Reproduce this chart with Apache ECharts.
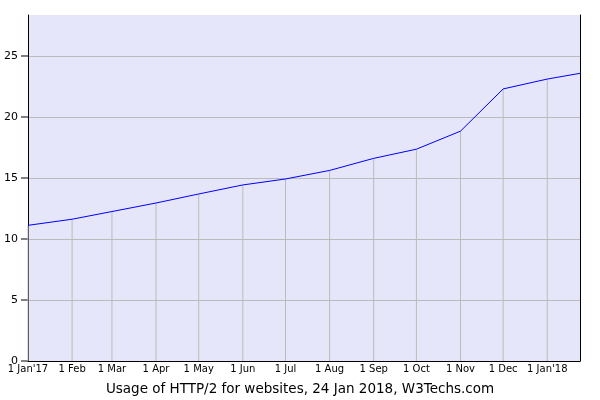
<!DOCTYPE html>
<html>
<head>
<meta charset="utf-8">
<script src="https://cdn.jsdelivr.net/npm/echarts@6/dist/echarts.min.js"></script>
<style>html,body{margin:0;padding:0;background:#fff}#c{width:600px;height:400px}</style>
</head>
<body>
<div id="c"></div>
<script>
var dates = ['2017-01-01','2017-02-01','2017-03-01','2017-04-01','2017-05-01','2017-06-01','2017-07-01','2017-08-01','2017-09-01','2017-10-01','2017-11-01','2017-12-01','2018-01-01','2018-01-24'];
var usage = [11.12, 11.62, 12.25, 12.95, 13.69, 14.43, 14.92, 15.62, 16.61, 17.36, 18.84, 22.3, 23.11, 23.58];
var monthTicks = ['2017-01-01','2017-02-01','2017-03-01','2017-04-01','2017-05-01','2017-06-01','2017-07-01','2017-08-01','2017-09-01','2017-10-01','2017-11-01','2017-12-01','2018-01-01'];
var monthLabels = ["1 Jan'17","1 Feb","1 Mar","1 Apr","1 May","1 Jun","1 Jul","1 Aug","1 Sep","1 Oct","1 Nov","1 Dec","1 Jan'18"];
var yTicks = [0, 5, 10, 15, 20, 25];
var titleText = 'Usage of HTTP/2 for websites, 24 Jan 2018, W3Techs.com';

var DAY = 86400000;
var t0 = Date.UTC(2017, 0, 1);
function dayNum(d){ return Math.round((new Date(d + 'T00:00:00Z').getTime() - t0) / DAY); }
var tickDays = monthTicks.map(dayNum);
var lineData = dates.map(function(d,i){ return [dayNum(d), usage[i]]; });
var dropData = monthTicks.map(function(d){ var i = dates.indexOf(d); return [dayNum(d), usage[i]]; });

var chart = echarts.init(document.getElementById('c'), null, {renderer:'canvas'});
var font = 'DejaVu Sans';
chart.setOption({
  animation: false,
  textStyle: {fontFamily: font},
  title: {
    text: titleText, left: 'center', top: 377,
    textStyle: {fontFamily: font, fontSize: 13.5, fontWeight: 'normal', color: '#000'}
  },
  grid: {left: 28, right: 20, top: 15, bottom: 39, show: true, backgroundColor: '#e6e6fa', borderWidth: 0},
  xAxis: {
    type: 'value',
    min: dayNum('2017-01-01'), max: dayNum('2018-01-24'),
    axisLine: {show: true, onZero: false, lineStyle: {color: '#000', width: 1}},
    axisTick: {show: false},
    splitLine: {show: false},
    axisLabel: {
      customValues: tickDays,
      fontFamily: font, fontSize: 10, color: '#000', margin: 3,
      hideOverlap: false,
      formatter: function(v){ var i = tickDays.indexOf(v); return i >= 0 ? monthLabels[i] : ''; }
    }
  },
  yAxis: [{
    type: 'value', min: 0, max: 28.36, interval: 5,
    axisLine: {show: true, onZero: false, lineStyle: {color: '#000', width: 1}},
    axisTick: {show: false},
    axisLabel: {
      customValues: yTicks, fontFamily: font, fontSize: 11, color: '#000', margin: 0,
      formatter: function(v){ return '{n|' + v + '}{g|}{t|}'; },
      rich: {
        n: {fontFamily: font, fontSize: 11, color: '#000'},
        g: {width: 3, height: 1},
        t: {width: 7, height: 1, backgroundColor: '#000'}
      }
    },
    splitLine: {show: true, showMaxLine: false, lineStyle: {color: '#bbbbbb', width: 1}}
  }, {
    type: 'value', min: 0, max: 28.36, position: 'right',
    axisLine: {show: true, onZero: false, lineStyle: {color: '#000', width: 1}},
    axisTick: {show: false}, axisLabel: {show: false}, splitLine: {show: false}
  }],
  series: [{
    type: 'bar', data: dropData, barWidth: 1, silent: true,
    itemStyle: {color: '#bbbbbb'}, z: 1
  }, {
    type: 'line', data: lineData, showSymbol: false, symbol: 'none',
    lineStyle: {color: '#0000ff', width: 1}, z: 3
  }]
});
</script>
</body>
</html>
